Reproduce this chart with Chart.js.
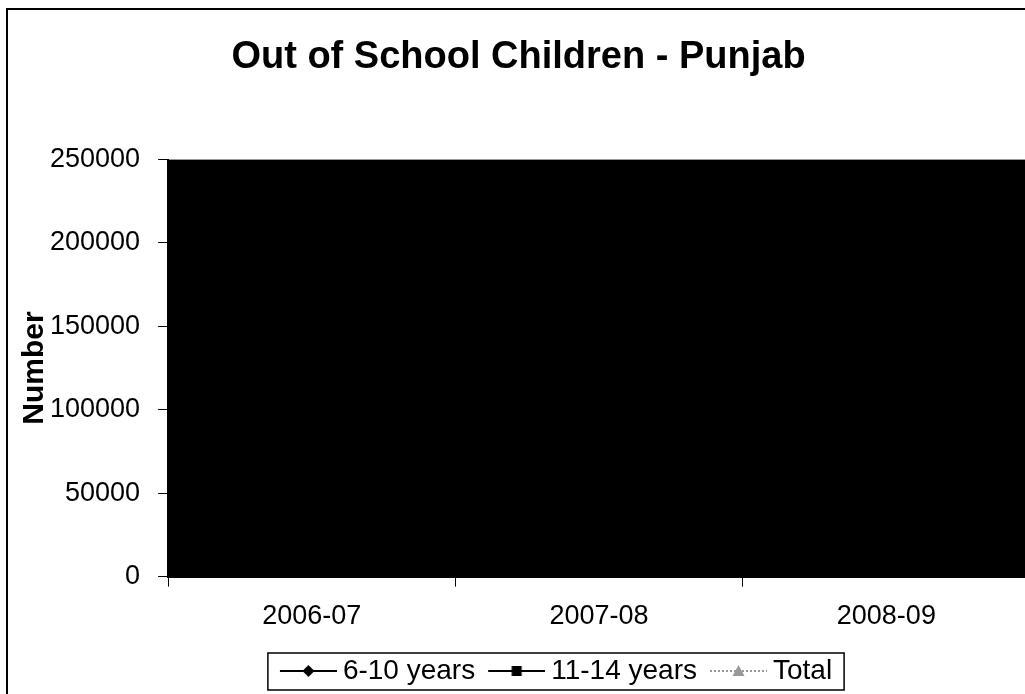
<!DOCTYPE html>
<html>
<head>
<meta charset="utf-8">
<script src="https://cdn.jsdelivr.net/npm/chart.js@4"></script>
<style>
html,body{margin:0;padding:0;background:#fff;overflow:hidden;}
#frame{position:absolute;left:6px;top:8px;width:1040px;height:700px;border-left:2px solid #000;border-top:2px solid #000;}
#wrap{position:absolute;left:0;top:0;width:1037px;height:695px;}
</style>
</head>
<body>
<div id="frame"></div>
<div id="wrap"><canvas id="chart"></canvas></div>
<script>
const years = ["2006-07","2007-08","2008-09"];
const age6to10 = [70000,80000,55000];
const age11to14 = [65000,70000,45000];
const totals = [135000,150000,100000];
const yTicks = [0,50000,100000,150000,200000,250000];

Chart.defaults.font.family = "Arial, 'Liberation Sans', sans-serif";
Chart.defaults.color = "#000";

const BOX_W = 52, ICON_W = 68, LINE_FROM = 11;

// legend sample: a short line with the marker in the middle, drawn wider than the box slot
function legendIcon(style,color,dash){
const c = document.createElement("canvas");
c.width = ICON_W; c.height = 16;
const g = c.getContext("2d");
const mid = (LINE_FROM + ICON_W)/2;
g.strokeStyle = color; g.fillStyle = color; g.lineWidth = 2;
if(dash) g.setLineDash(dash);
g.beginPath(); g.moveTo(LINE_FROM,8); g.lineTo(ICON_W,8); g.stroke();
g.setLineDash([]);
g.beginPath();
if(style==="diamond"){ g.moveTo(mid,2); g.lineTo(mid+6,8); g.lineTo(mid,14); g.lineTo(mid-6,8); g.closePath(); g.fill(); }
else if(style==="square"){ g.fillRect(mid-5,3,10,10); }
else { g.moveTo(mid,2); g.lineTo(mid+6,13); g.lineTo(mid-6,13); g.closePath(); g.fill(); }
return c;
}

const plotFill = {
id:"plotFill",
beforeDatasetsDraw(chart){
const a = chart.chartArea, ctx = chart.ctx;
ctx.save(); ctx.fillStyle = "#000";
ctx.fillRect(a.left,a.top,a.right-a.left,a.bottom-a.top);
ctx.restore();
}
};

// the legend in the original sits a little right of the page centre
const legendShift = {
id:"legendShift",
afterLayout(chart){
chart.legend.left += 36;
chart.legend.right += 36;
}
};

const legendBox = {
id:"legendBox",
afterDraw(chart){
const l = chart.legend, pad = l.options.labels.padding;
const w = l.lineWidths[0];
const start = (l.left + pad + l.right - w)/2;
const left = start + BOX_W + BOX_W/2 - ICON_W/2 + LINE_FROM - BOX_W - 12;
const right = start + w - pad + 12;
const c = l.top + pad + 14;
const ctx = chart.ctx;
ctx.save(); ctx.strokeStyle = "#000"; ctx.lineWidth = 1.5;
ctx.strokeRect(left,c-18,right-left,37);
ctx.restore();
}
};

const icons = [legendIcon("diamond","#000"),legendIcon("square","#000"),legendIcon("triangle","#999",[2,2])];

new Chart(document.getElementById("chart"),{
type:"line",
data:{
labels:years,
datasets:[
{label:"6-10 years",data:age6to10,borderColor:"#000",backgroundColor:"#000",pointStyle:"rectRot",pointRadius:5,borderWidth:2},
{label:"11-14 years",data:age11to14,borderColor:"#000",backgroundColor:"#000",pointStyle:"rect",pointRadius:5,borderWidth:2},
{label:"Total",data:totals,borderColor:"#000",backgroundColor:"#000",pointStyle:"triangle",pointRadius:5,borderWidth:2}
]
},
options:{
responsive:true,
maintainAspectRatio:false,
animation:false,
layout:{padding:{top:35,left:0,right:0,bottom:0}},
plugins:{
title:{display:true,text:"Out of School Children - Punjab",font:{size:38,weight:"bold"},color:"#000",padding:{top:0,bottom:79}},
legend:{
position:"bottom",
align:"center",
labels:{
usePointStyle:true,
pointStyleWidth:BOX_W,
font:{size:28},
color:"#000",
padding:10,
generateLabels(chart){
return chart.data.datasets.map((d,i)=>({
text:d.label,pointStyle:icons[i],datasetIndex:i,
fillStyle:"#000",strokeStyle:"#000",lineWidth:0,fontColor:"#000"
}));
}
}
},
tooltip:{enabled:false}
},
scales:{
x:{
offset:true,
grid:{offset:true,drawOnChartArea:false,drawTicks:true,tickLength:10,color:"#000"},
border:{color:"#000",width:2},
ticks:{font:{size:27},color:"#000",padding:14}
},
y:{
min:0,max:250000,
afterBuildTicks(axis){ axis.ticks = yTicks.map(v=>({value:v})); },
grid:{drawOnChartArea:false,drawTicks:true,tickLength:10,color:"#000"},
border:{color:"#000",width:2},
ticks:{font:{size:27},color:"#000",padding:18,callback:v=>String(v)},
title:{display:true,text:"Number",font:{size:30,weight:"bold"},color:"#000",padding:{top:17,bottom:-21}}
}
}
},
plugins:[plotFill,legendShift,legendBox]
});
</script>
</body>
</html>
